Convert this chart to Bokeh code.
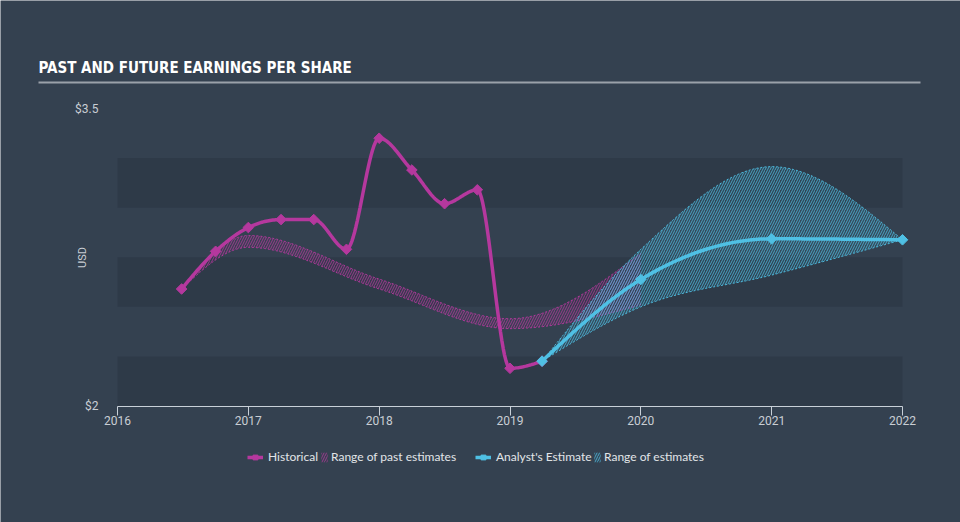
import numpy as np
from bokeh.plotting import figure
from bokeh.models import (Range1d, FixedTicker, Legend, LegendItem, Label, BoxAnnotation)
from bokeh.core.properties import value
from bokeh.embed import file_html
from bokeh.resources import INLINE

# ---------------- data ----------------
hist_x = [2016.49, 2016.75, 2017.0, 2017.25, 2017.5, 2017.75, 2018.0,
          2018.25, 2018.5, 2018.75, 2019.0, 2019.245]
hist_eps = [2.59, 2.78, 2.90, 2.94, 2.94, 2.79, 3.35, 3.19, 3.02, 3.09, 2.19, 2.226]

past_x = [2016.49, 2017.0, 2018.0, 2019.0, 2020.0]
past_low = [2.59, 2.80, 2.59, 2.39, 2.51]
past_high = [2.59, 2.86, 2.64, 2.44, 2.77]

est_x = [2019.245, 2020.0, 2021.0, 2022.0]
est_eps = [2.226, 2.638, 2.843, 2.838]
est_low = [2.226, 2.50, 2.66, 2.838]
est_high = [2.226, 2.79, 3.207, 2.838]

x_ticks = [2016, 2017, 2018, 2019, 2020, 2021, 2022]
x_tick_labels = ["2016", "2017", "2018", "2019", "2020", "2021", "2022"]
y_ticks = [2.0, 3.5]
y_tick_labels = ["$2", "$3.5"]

band_bottoms = [2.0, 2.5, 3.0]
band_tops = [2.25, 2.75, 3.25]

title_text = "PAST AND FUTURE EARNINGS PER SHARE"
legend_labels = ["Historical", "Range of past estimates",
                 "Analyst's Estimate", "Range of estimates"]

# ---------------- styling / layout ----------------
BG = "#344150"
BAND = "#2e3a48"
MAGENTA = "#b5389e"
BLUE = "#4fc0e4"
TXT = "#c9ced4"

W, H = 960, 522
PLOT_L, PLOT_R = 117.0, 902.0      # pixel columns of the first / last x tick
PLOT_B, PLOT_T = 405.5, 108.0      # pixel rows of the lowest / highest y tick


def _sign(v):
    return -1.0 if v < 0 else 1.0


def monotone_x(xs, ys, steps=24):
    """d3 curveMonotoneX rendering of the given knots (cubic Bezier per segment)."""
    xs = np.asarray(xs, float)
    ys = np.asarray(ys, float)
    n = len(xs)
    if n < 3:
        return list(xs), list(ys)
    t = np.zeros(n)
    for i in range(1, n - 1):
        h0 = xs[i] - xs[i - 1]
        h1 = xs[i + 1] - xs[i]
        s0 = (ys[i] - ys[i - 1]) / h0
        s1 = (ys[i + 1] - ys[i]) / h1
        p_ = (s0 * h1 + s1 * h0) / (h0 + h1)
        t[i] = (_sign(s0) + _sign(s1)) * min(abs(s0), abs(s1), 0.5 * abs(p_))
    t[0] = (3 * (ys[1] - ys[0]) / (xs[1] - xs[0]) - t[1]) / 2
    t[-1] = (3 * (ys[-1] - ys[-2]) / (xs[-1] - xs[-2]) - t[-2]) / 2
    ox, oy = [xs[0]], [ys[0]]
    for i in range(n - 1):
        dx = xs[i + 1] - xs[i]
        p0 = ys[i]
        p1 = ys[i] + dx / 3 * t[i]
        p2 = ys[i + 1] - dx / 3 * t[i + 1]
        p3 = ys[i + 1]
        for k in range(1, steps + 1):
            u = k / steps
            ox.append(xs[i] + u * dx)
            oy.append((1 - u) ** 3 * p0 + 3 * (1 - u) ** 2 * u * p1
                      + 3 * (1 - u) * u ** 2 * p2 + u ** 3 * p3)
    return ox, oy


# ranges chosen so that the frame fills the whole canvas and the ticks land
# on the reference's pixel positions
px_x = (PLOT_R - PLOT_L) / (x_ticks[-1] - x_ticks[0])
px_y = (PLOT_B - PLOT_T) / (y_ticks[-1] - y_ticks[0])
x0 = x_ticks[0] - PLOT_L / px_x
x1 = x_ticks[0] + (W - PLOT_L) / px_x
y0 = y_ticks[0] - (H - PLOT_B) / px_y
y1 = y_ticks[-1] + PLOT_T / px_y

p = figure(frame_width=W, frame_height=H, min_border=0,
           x_range=Range1d(x0, x1), y_range=Range1d(y0, y1),
           output_backend="svg", toolbar_location=None,
           background_fill_color=BG, border_fill_color=BG,
           outline_line_color=None)
p.xgrid.visible = False
p.ygrid.visible = False

# horizontal bands
p.quad(left=x_ticks[0], right=x_ticks[-1], bottom=band_bottoms, top=band_tops,
       fill_color=BAND, line_alpha=0)

# past estimate range
pxl, pyl = monotone_x(past_x, past_low)
pxh, pyh = monotone_x(past_x, past_high)
past_area = p.varea(x=pxl, y1=pyl, y2=pyh, fill_color=MAGENTA, fill_alpha=0.05,
                    hatch_pattern="/", hatch_color=MAGENTA, hatch_alpha=0.75,
                    hatch_scale=5, hatch_weight=1)
p.line(pxl, pyl, line_color=MAGENTA, line_width=1, line_dash="2 2", line_alpha=0.9)
p.line(pxh, pyh, line_color=MAGENTA, line_width=1, line_dash="2 2", line_alpha=0.9)

# analyst estimate range
exl, eyl = monotone_x(est_x, est_low)
exh, eyh = monotone_x(est_x, est_high)
est_area = p.varea(x=exl, y1=eyl, y2=eyh, fill_color=BLUE, fill_alpha=0.08,
                   hatch_pattern="/", hatch_color=BLUE, hatch_alpha=0.75,
                   hatch_scale=5, hatch_weight=1)
p.line(exl, eyl, line_color=BLUE, line_width=1, line_dash="2 2", line_alpha=0.9)
p.line(exh, eyh, line_color=BLUE, line_width=1, line_dash="2 2", line_alpha=0.9)

# historical
hx, hy = monotone_x(hist_x, hist_eps)
hist_line = p.line(hx, hy, line_color=MAGENTA, line_width=3.5)
hist_pts = p.scatter(hist_x, hist_eps, marker="square", angle=np.pi / 4, size=7.5,
                     fill_color=MAGENTA, line_color=MAGENTA)

# analyst estimate
ax_, ay_ = monotone_x(est_x, est_eps)
est_line = p.line(ax_, ay_, line_color=BLUE, line_width=3.5)
est_pts = p.scatter(est_x, est_eps, marker="square", angle=np.pi / 4, size=7.5,
                    fill_color=BLUE, line_color=BLUE)

# ---------------- axes (drawn at fixed data locations inside the frame) ----------------
xa = p.xaxis[0]
xa.fixed_location = y_ticks[0]
xa.ticker = FixedTicker(ticks=x_ticks)
xa.major_label_overrides = {**{t: l for t, l in zip(x_ticks, x_tick_labels)},
                            **{str(t): l for t, l in zip(x_ticks, x_tick_labels)}}
xa.bounds = (x_ticks[0], x_ticks[-1])
xa.axis_line_color = "#c8d0d8"
xa.axis_line_width = 1
xa.major_tick_line_color = "#c8d0d8"
xa.major_tick_out = 9
xa.major_tick_in = 0
xa.minor_tick_line_color = None
xa.major_label_standoff = 1
xa.major_label_text_color = TXT
xa.major_label_text_font = "Roboto"
xa.major_label_text_font_size = "12px"

ya = p.yaxis[0]
ya.fixed_location = x_ticks[0]
ya.ticker = FixedTicker(ticks=y_ticks)
ya.major_label_overrides = {**{t: l for t, l in zip(y_ticks, y_tick_labels)},
                            **{f"{t:g}": l for t, l in zip(y_ticks, y_tick_labels)}}
ya.bounds = (y_ticks[0], y_ticks[-1])
ya.axis_line_color = None
ya.major_tick_line_color = None
ya.minor_tick_line_color = None
ya.major_tick_out = 0
ya.major_tick_in = 0
ya.major_label_standoff = 19
ya.major_label_text_color = TXT
ya.major_label_text_font = "Roboto"
ya.major_label_text_font_size = "12px"
ya.axis_label = "USD"
ya.axis_label_standoff = -17
ya.axis_label_text_color = TXT
ya.axis_label_text_font = "Roboto"
ya.axis_label_text_font_size = "11px"
ya.axis_label_text_font_style = "normal"

# ---------------- title + rule ----------------
p.add_layout(Label(x=38, y=H - 67.5, x_units="screen", y_units="screen",
                   text=title_text,
                   text_font="DejaVu Sans Condensed, Roboto", text_font_style="bold",
                   text_font_size="15px", text_color="#ffffff",
                   text_baseline="middle", text_align="left"))
p.add_layout(BoxAnnotation(left=38, right=920, bottom=H - 83, top=H - 81,
                           left_units="screen", right_units="screen",
                           bottom_units="screen", top_units="screen",
                           fill_color="#9aa1a9", fill_alpha=1, line_alpha=0))

# ---------------- legend (one box per entry, laid out like the reference) ----------------
LEG_BOTTOM = H - 464
entries = [
    (legend_labels[0], [hist_line, hist_pts], 247, 16, 5),
    (legend_labels[1], [past_area], 320, 8, 3),
    (legend_labels[2], [est_line, est_pts], 475, 16, 5),
    (legend_labels[3], [est_area], 593, 8, 3),
]
for label, rends, lx, gw, so in entries:
    p.add_layout(Legend(items=[LegendItem(label=label, renderers=rends)],
                        location=(lx, LEG_BOTTOM), orientation="horizontal",
                        padding=0, margin=0, spacing=0,
                        glyph_width=gw, glyph_height=12, label_height=14,
                        label_standoff=so,
                        label_text_font="Lato", label_text_font_size="12px",
                        label_text_color="#e2e5e8",
                        background_fill_alpha=0, border_line_alpha=0), "center")

open("out.html", "w").write(file_html(p, INLINE))
